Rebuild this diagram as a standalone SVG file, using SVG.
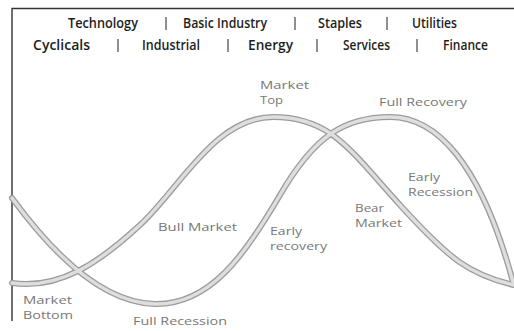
<svg xmlns="http://www.w3.org/2000/svg" width="514" height="331" viewBox="0 0 514 331">
  <style>
    .frame { fill: none; stroke: #333; stroke-width: 1.4; }
    .hdr { font-family: "Open Sans", "Liberation Sans", sans-serif; font-size: 14px; font-weight: 600; fill: #1e1e1e; }
    .sep { stroke: #333; stroke-width: 1.1; }
    .lbl { font-family: "Open Sans", "Liberation Sans", sans-serif; font-size: 11px; font-weight: 400; fill: #787878; }
    .edge { fill: none; stroke: #9c9c9c; stroke-width: 6; stroke-linecap: round; }
    .core { fill: none; stroke: #dedede; stroke-width: 3.4; stroke-linecap: round; }
  </style>
  <defs>
    <path id="market" d="M12,283 C60,290 100,262 140,225 S215,117 273,117 S350,150 400,205 S470,275 514,285"/>
    <path id="economy" d="M12,198 C50,250 100,303 155,304 S245,255 280,195 C315,135 345,117 390,117 S480,160 513,282"/>
  </defs>

  <rect width="514" height="331" fill="#ffffff"/>

  <!-- frame: top rule and left axis -->
  <g id="frame">
    <path class="frame" d="M514,8.5 H12 V321"/>
  </g>

  <!-- sector header -->
  <g id="sectors">
    <text class="hdr" x="68" y="28" textLength="70" lengthAdjust="spacingAndGlyphs">Technology</text>
    <text class="hdr" x="183" y="28" textLength="84" lengthAdjust="spacingAndGlyphs">Basic Industry</text>
    <text class="hdr" x="318" y="28" textLength="44" lengthAdjust="spacingAndGlyphs">Staples</text>
    <text class="hdr" x="412" y="28" textLength="45" lengthAdjust="spacingAndGlyphs">Utilities</text>
    <line class="sep" x1="166" y1="17" x2="166" y2="30"/>
    <line class="sep" x1="295" y1="17" x2="295" y2="30"/>
    <line class="sep" x1="387" y1="17" x2="387" y2="30"/>

    <text class="hdr" x="33" y="50" textLength="57" lengthAdjust="spacingAndGlyphs">Cyclicals</text>
    <text class="hdr" x="142" y="50" textLength="58" lengthAdjust="spacingAndGlyphs">Industrial</text>
    <text class="hdr" x="248" y="50" textLength="45" lengthAdjust="spacingAndGlyphs">Energy</text>
    <text class="hdr" x="343" y="50" textLength="47" lengthAdjust="spacingAndGlyphs">Services</text>
    <text class="hdr" x="443" y="50" textLength="45" lengthAdjust="spacingAndGlyphs">Finance</text>
    <line class="sep" x1="118" y1="39" x2="118" y2="52"/>
    <line class="sep" x1="228" y1="39" x2="228" y2="52"/>
    <line class="sep" x1="317" y1="39" x2="317" y2="52"/>
    <line class="sep" x1="417" y1="39" x2="417" y2="52"/>
  </g>

  <!-- cycle curves -->
  <g id="curves">
    <use href="#economy" class="edge"/>
    <use href="#market" class="edge"/>
    <use href="#economy" class="core"/>
    <use href="#market" class="core"/>
  </g>

  <!-- phase labels -->
  <g id="labels">
    <text class="lbl" x="260" y="89" textLength="49" lengthAdjust="spacingAndGlyphs">Market</text>
    <text class="lbl" x="260" y="104" textLength="23" lengthAdjust="spacingAndGlyphs">Top</text>
    <text class="lbl" x="379" y="106" textLength="88" lengthAdjust="spacingAndGlyphs">Full Recovery</text>
    <text class="lbl" x="408" y="181" textLength="32" lengthAdjust="spacingAndGlyphs">Early</text>
    <text class="lbl" x="408" y="196" textLength="65" lengthAdjust="spacingAndGlyphs">Recession</text>
    <text class="lbl" x="158" y="231" textLength="79" lengthAdjust="spacingAndGlyphs">Bull Market</text>
    <text class="lbl" x="355" y="212" textLength="29" lengthAdjust="spacingAndGlyphs">Bear</text>
    <text class="lbl" x="355" y="227" textLength="47" lengthAdjust="spacingAndGlyphs">Market</text>
    <text class="lbl" x="270" y="235" textLength="32" lengthAdjust="spacingAndGlyphs">Early</text>
    <text class="lbl" x="270" y="250" textLength="57" lengthAdjust="spacingAndGlyphs">recovery</text>
    <text class="lbl" x="23" y="304" textLength="49" lengthAdjust="spacingAndGlyphs">Market</text>
    <text class="lbl" x="23" y="319" textLength="50" lengthAdjust="spacingAndGlyphs">Bottom</text>
    <text class="lbl" x="133" y="325" textLength="94" lengthAdjust="spacingAndGlyphs">Full Recession</text>
  </g>
</svg>
